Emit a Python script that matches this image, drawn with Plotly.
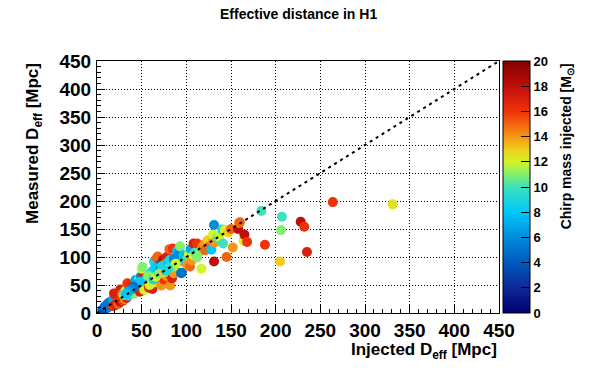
import plotly.graph_objects as go

# Injected effective distance [Mpc], measured effective distance [Mpc], chirp mass [Msun]
inj = [6, 8, 9, 10, 11, 12, 13, 14, 15, 16, 17, 18, 19, 20, 21, 22, 23, 24, 25, 26, 27, 28, 30, 12, 15, 18, 9, 20, 23,
       18, 21, 24, 26, 29, 31, 33, 22, 19, 26, 28, 30, 34, 37, 35, 32, 40, 36, 38, 34, 40, 42, 44, 43, 45, 46, 48, 50,
       47, 49, 53, 52, 50, 51, 55, 55, 53, 57, 58, 60, 61, 62, 63, 64, 65, 65, 67, 68, 70, 70, 72, 72, 74, 74, 75, 76,
       77, 78, 78, 80, 81, 82, 83, 84, 85, 85, 86, 87, 88, 90, 90, 91, 92, 93, 94, 95, 96, 97, 98, 100, 101, 103, 104,
       105, 106, 108, 108, 110, 112, 112, 115, 117, 118, 120, 121, 124, 125, 128, 130, 130, 131, 131, 132, 135, 137,
       140, 141, 143, 145, 147, 150, 152, 158, 159, 160, 164, 165, 168, 184, 188, 205, 206, 207, 228, 232, 235, 264,
       331,
       55, 58, 60, 62, 66, 68, 71, 73, 79, 82, 86, 88, 80, 45, 48, 41, 38, 35, 32, 57, 59, 63, 66, 69, 75, 77]
meas = [6, 9, 7, 11, 9, 13, 11, 15, 14, 13, 17, 19, 17, 21, 18, 23, 21, 26, 23, 27, 25, 30, 28, 17, 20, 24, 12, 14, 17,
        12, 15, 16, 20, 22, 25, 27, 30, 35, 42, 34, 32, 36, 38, 31, 40, 40, 46, 44, 53, 50, 35, 51, 59, 46, 42, 38, 44,
        60, 65, 66, 67, 79, 82, 55, 48, 41, 52, 45, 57, 67, 43, 66, 92, 88, 55, 98, 101, 86, 75, 57, 49, 95, 74, 60, 80,
        88, 100, 66, 70, 114, 49, 89, 62, 115, 83, 71, 83, 94, 107, 111, 100, 108, 119, 71, 72, 92, 103, 98, 96, 86,
        105, 83, 114, 94, 103, 124, 108, 99, 124, 109, 79, 118, 122, 112, 130, 118, 113, 128, 140, 157, 92, 126, 134,
        136, 149, 124, 148, 100, 144, 150, 117, 150, 161, 162, 129, 140, 127, 182, 122, 92, 148, 172, 163, 154, 109,
        198, 194,
        60, 62, 70, 75, 80, 72, 78, 84, 90, 95, 97, 88, 80, 52, 56, 47, 42, 38, 34, 66, 50, 60, 65, 70, 72, 75]
mchirp = [4, 5, 3, 6, 4, 5, 6, 4, 7, 5, 6, 4, 5, 6, 3, 5, 7, 6, 4, 5, 6, 7, 5, 6, 5, 7, 5, 6, 5,
          16, 17, 15, 18, 16, 14, 17, 16, 17, 17, 15, 11, 10, 11, 9, 12, 10, 8, 16, 16, 17, 11, 10, 7, 13, 15, 17, 16,
          11, 6, 10, 17, 12, 11, 17, 18, 12, 14, 16, 14, 15, 17, 17, 8, 9, 13, 15, 15, 5, 8, 17, 14, 18, 16, 16, 6,
          13, 17, 14, 16, 15, 14, 12, 17, 16, 14, 14, 11, 17, 7, 8, 9, 6, 11, 5, 5, 9, 8, 7, 10, 14, 12, 15,
          7, 14, 12, 17, 10, 11, 16, 11, 12, 14, 14, 15, 13, 15, 8, 14, 12, 6, 18, 14, 10, 12,
          9, 10, 12, 15, 13, 15, 14, 18, 14, 15, 12, 18, 16, 10, 16, 13, 11, 10, 18, 16, 17, 16,
          12.5,
          8, 7, 6, 9, 8, 7, 6, 9, 8, 9, 6, 12, 10, 7, 8, 5, 6, 7, 8, 11, 12, 9, 12, 11, 13, 9]

diag = [0, 450]
ticks = [0, 50, 100, 150, 200, 250, 300, 350, 400, 450]
cb_ticks = [0, 2, 4, 6, 8, 10, 12, 14, 16, 18, 20]

rainbow = [
    [0.00, "rgb(0,0,110)"],
    [0.10, "rgb(15,40,150)"],
    [0.20, "rgb(0,90,190)"],
    [0.30, "rgb(0,140,220)"],
    [0.40, "rgb(0,200,250)"],
    [0.50, "rgb(60,225,190)"],
    [0.55, "rgb(130,240,110)"],
    [0.60, "rgb(210,245,40)"],
    [0.65, "rgb(240,205,30)"],
    [0.70, "rgb(245,150,20)"],
    [0.80, "rgb(240,50,10)"],
    [0.90, "rgb(190,15,10)"],
    [1.00, "rgb(130,0,0)"],
]

FONT = "Liberation Sans, Arial, sans-serif"

fig = go.Figure()
fig.add_trace(go.Scatter(
    x=inj, y=meas, mode="markers",
    marker=dict(size=10, color=mchirp, colorscale=rainbow, cmin=0, cmax=20,
                line=dict(width=0),
                colorbar=dict(x=1.01, xanchor="left", xpad=0, y=0.5, yanchor="middle", ypad=0,
                              len=1.0, lenmode="fraction", thickness=27, outlinecolor="black",
                              outlinewidth=1, ticks="inside", ticklen=9, tickcolor="black",
                              tickvals=cb_ticks,
                              tickfont=dict(family=FONT, size=13, color="black", weight="bold"))),
    showlegend=False, hoverinfo="skip"))
fig.add_trace(go.Scatter(
    x=diag, y=diag, mode="lines",
    line=dict(color="black", width=2, dash="3px,4px"),
    showlegend=False, hoverinfo="skip"))

axis_common = dict(
    range=[0, 450], tickvals=ticks, ticks="inside", ticklen=8, tickcolor="black", tickwidth=1,
    minor=dict(ticks="inside", ticklen=4, dtick=10, tickcolor="black", showgrid=False),
    showgrid=True, gridcolor="black", griddash="1px,2px", gridwidth=1,
    showline=True, linecolor="black", linewidth=1, mirror=True, zeroline=False,
    tickfont=dict(family=FONT, size=19, color="black", weight="bold"),
)

fig.update_layout(
    width=596, height=374,
    margin=dict(l=97, r=97, t=61, b=61),
    paper_bgcolor="white", plot_bgcolor="white",
    xaxis=dict(**axis_common, ticklabelstandoff=0),
    yaxis=dict(**axis_common, ticklabelstandoff=1),
    annotations=[
        dict(text="<b>Effective distance in H1</b>", xref="paper", yref="paper",
             x=0.5, y=1.187, xanchor="center", yanchor="middle", showarrow=False,
             font=dict(family=FONT, size=14, color="black")),
        dict(text="<b>Injected D<sub>eff</sub> [Mpc]</b>", xref="paper", yref="paper",
             x=1.0, y=-0.152, xanchor="right", yanchor="middle", showarrow=False,
             font=dict(family=FONT, size=17, color="black")),
        dict(text="<b>Measured D<sub>eff</sub> [Mpc]</b>", xref="paper", yref="paper",
             x=-0.158, y=1.0, xanchor="center", yanchor="top", textangle=-90, showarrow=False,
             font=dict(family=FONT, size=17, color="black")),
        dict(text="<b>Chirp mass injected [M<sub>⊙</sub>]</b>", xref="paper", yref="paper",
             x=1.17, y=1.0, xanchor="center", yanchor="top", textangle=-90, showarrow=False,
             font=dict(family=FONT, size=14, color="black")),
    ],
)

fig.write_html("out.html", config={"displayModeBar": False, "staticPlot": True},
               post_script="document.body.style.margin='0';")
